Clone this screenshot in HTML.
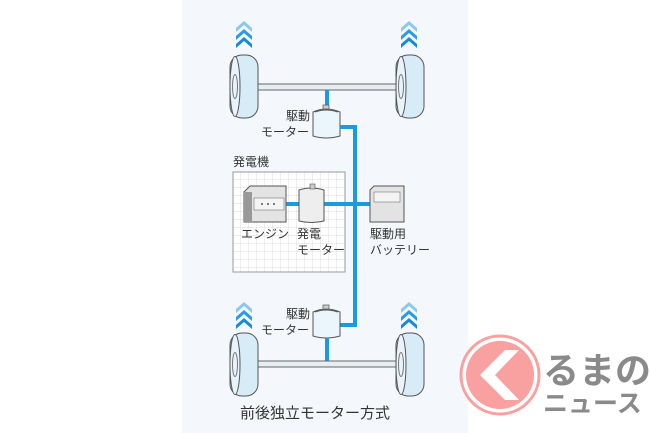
<!DOCTYPE html>
<html><head><meta charset="utf-8"><style>
body{margin:0;width:650px;height:433px;background:#fff;overflow:hidden}
svg{display:block}
text{font-family:"Liberation Sans","Noto Sans CJK JP",sans-serif;fill:#333}
</style></head><body>
<svg width="650" height="433" viewBox="0 0 650 433">
<defs>
<g id="chev">
<path d="M0 8 L8 1 L16 8 L16 12 L8 5 L0 12Z" fill="#8cc8ee"/>
<path d="M0 16 L8 9 L16 16 L16 20 L8 13 L0 20Z" fill="#2a9be0"/>
<path d="M0 24 L8 17 L16 24 L16 28 L8 21 L0 28Z" fill="#1a8ad6"/>
</g>
<g id="wheel">
<rect x="0" y="0" width="28" height="63" rx="12" fill="#d8ecf8" stroke="#555" stroke-width="1"/>
<ellipse cx="5" cy="31.5" rx="5" ry="30" fill="#e8f3fa" stroke="#555" stroke-width="1"/>
<ellipse cx="5" cy="31.5" rx="2.5" ry="12" fill="none" stroke="#777"/>
</g>
<g id="motor">
<path d="M0 4 Q13 -2 27 4 L27 28 Q13 32 0 28Z" fill="#eaf5fc" stroke="#555"/>
<path d="M2 4 Q13 0 25 4" fill="none" stroke="#555"/>
<rect x="10" y="-3" width="6" height="4" fill="#ccc" stroke="#555" stroke-width=".7"/>
</g>
<pattern id="grid" width="8" height="8" patternUnits="userSpaceOnUse" x="233" y="172">
<path d="M8 0 V8 M0 8 H8" stroke="#c9cdd2" stroke-width=".7" fill="none"/>
</pattern>
</defs>
<rect x="182" y="0" width="286" height="433" fill="#f4f8fc"/>
<use href="#chev" x="236" y="20"/><use href="#chev" x="401" y="20"/>
<rect x="256" y="84" width="146" height="6" fill="#e6eef4" stroke="#666" stroke-width="1"/>
<use href="#wheel" x="230" y="55"/><use href="#wheel" x="396" y="55"/>
<rect x="325" y="90" width="4" height="18" fill="#1a9ae0"/>
<use href="#motor" x="313" y="108"/>
<path d="M340 127 H355 V325 H340" fill="none" stroke="#1a9ae0" stroke-width="4"/>
<text x="233" y="166" font-size="12">発電機</text>
<rect x="233" y="172" width="112" height="100" fill="#fff" stroke="#999"/>
<rect x="233" y="172" width="112" height="100" fill="url(#grid)" stroke="#999"/>
<path d="M286 204 H299 M324 204 H370" stroke="#1a9ae0" stroke-width="4"/>
<path d="M244 192 L250 186 L286 186 L286 222 L244 222Z" fill="#e3e3e3" stroke="#555"/>
<rect x="244" y="192" width="8" height="30" fill="#999"/>
<rect x="254" y="198" width="30" height="12" fill="#f4f4f4" stroke="#777" stroke-width=".6"/>
<circle cx="262" cy="204" r="1" fill="#555"/><circle cx="268" cy="204" r="1" fill="#555"/><circle cx="274" cy="204" r="1" fill="#555"/>
<path d="M299 190 Q311 186 324 190 L324 221 Q311 224 299 221Z" fill="#eee" stroke="#555"/>
<rect x="310" y="184" width="5" height="5" fill="#ccc" stroke="#555" stroke-width=".6"/>
<path d="M370 190 L374 186 L404 186 L404 222 L370 222Z" fill="#e3e3e3" stroke="#555"/>
<rect x="374" y="192" width="26" height="10" fill="#f4f4f4" stroke="#777" stroke-width=".6"/>
<text x="241" y="238" font-size="12">エンジン</text>
<text x="297" y="238" font-size="12">発電</text>
<text x="297" y="254" font-size="12">モーター</text>
<text x="370" y="238" font-size="12">駆動用</text>
<text x="370" y="254" font-size="12">バッテリー</text>
<text x="286" y="120" font-size="12">駆動</text>
<text x="261" y="136" font-size="12">モーター</text>
<use href="#chev" x="236" y="301"/><use href="#chev" x="401" y="301"/>
<text x="286" y="318" font-size="12">駆動</text>
<text x="261" y="334" font-size="12">モーター</text>
<use href="#motor" x="313" y="308"/>
<rect x="325" y="338" width="4" height="25" fill="#1a9ae0"/>
<rect x="256" y="361" width="146" height="6" fill="#e6eef4" stroke="#666" stroke-width="1"/>
<use href="#wheel" x="230" y="333"/><use href="#wheel" x="396" y="333"/>
<text x="315" y="418" font-size="15" text-anchor="middle">前後独立モーター方式</text>
<circle cx="500" cy="375" r="39" fill="#fff" stroke="#f9a0a0" stroke-width="3"/>
<circle cx="500" cy="375" r="34" fill="#f9a0a0"/>
<path d="M505 350 L480 375 L505 400 L519 400 L495 375 L519 350Z" fill="#fff"/>
<text x="543" y="383" font-size="36" font-weight="bold" style="fill:#8a8a8a">るまの</text>
<text x="543" y="412" font-size="25" font-weight="bold" style="fill:#8a8a8a">ニュース</text>
</svg>
</body></html>
